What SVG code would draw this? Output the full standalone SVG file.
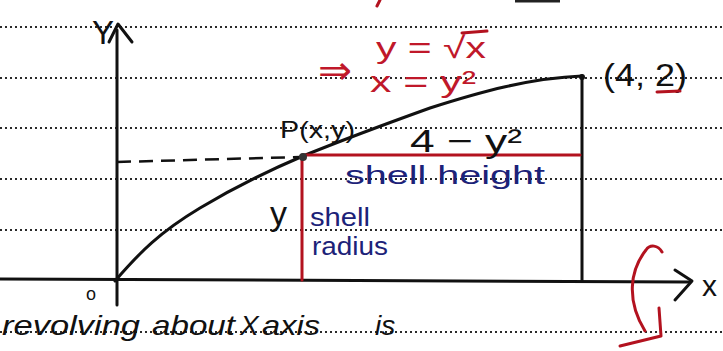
<svg xmlns="http://www.w3.org/2000/svg" width="723" height="351" viewBox="0 0 723 351">
<style>
.rule{stroke:#2a2a2a;stroke-width:2.2;stroke-dasharray:2 3;fill:none}
.ink{stroke:#111;stroke-width:3;fill:none;stroke-linecap:round;stroke-linejoin:round}
.red{stroke:#b3121f;stroke-width:3;fill:none;stroke-linecap:round;stroke-linejoin:round}
.t{font-family:"Liberation Sans","DejaVu Sans",sans-serif;fill:#111}
.tr{font-family:"Liberation Sans","DejaVu Sans",sans-serif;fill:#c0182a}
.tb{font-family:"Liberation Sans","DejaVu Sans",sans-serif;fill:#1c2278}
</style>
<rect width="723" height="351" fill="#fff"/>
<g id="rules">
<line class="rule" x1="0" y1="27" x2="723" y2="27"/>
<line class="rule" x1="0" y1="78" x2="723" y2="78"/>
<line class="rule" x1="0" y1="128" x2="723" y2="128"/>
<line class="rule" x1="0" y1="179" x2="723" y2="179"/>
<line class="rule" x1="0" y1="230" x2="723" y2="230"/>
<line class="rule" x1="0" y1="332" x2="723" y2="332"/>
</g>
<g id="top-fragments">
<line x1="515" y1="1" x2="560" y2="1" stroke="#222" stroke-width="3"/>
<line x1="380" y1="0" x2="377" y2="6" class="red"/>
</g>
<g id="axes">
<line class="ink" x1="0" y1="279" x2="690" y2="282"/>
<polyline class="ink" points="675,270 692,281 675,300"/>
<line class="ink" x1="117" y1="305" x2="117" y2="30"/>
<polyline class="ink" points="109,42 118,24 132,42" stroke-width="2.5"/>
</g>
<g id="curve">
<path class="ink" d="M115,281 C140,252 160,232 200,208 C230,190 270,170 303,156 C340,141 380,126 430,108 C480,92 530,78 582,76"/>
<line class="ink" x1="582" y1="76" x2="582" y2="280"/>
<circle cx="582" cy="77" r="3" fill="#111"/>
<line x1="117" y1="162" x2="300" y2="157" stroke="#111" stroke-width="2.5" stroke-dasharray="14 8"/>
</g>
<g id="shell">
<line class="red" x1="303" y1="155" x2="580" y2="155"/>
<line class="red" x1="302" y1="155" x2="302" y2="280"/>
<circle cx="303" cy="157" r="4" fill="#333"/>
</g>
<g id="rotation">
<path class="red" d="M662,252 C658,245 650,244 646,250 C630,270 626,300 645,331"/>
<polyline class="red" points="659,308 661,336 620,346"/>
</g>
<g id="labels">
<text class="t" x="92" y="44" font-size="34" textLength="22" lengthAdjust="spacingAndGlyphs">Y</text>
<text class="t" x="86" y="300" font-size="18">o</text>
<text class="t" x="702" y="296" font-size="30">x</text>
<text class="tr" x="318" y="84" font-size="40" textLength="34" lengthAdjust="spacingAndGlyphs">⇒</text>
<text class="tr" x="376" y="58" font-size="30" textLength="110" lengthAdjust="spacingAndGlyphs">y = √x</text>
<line class="red" x1="462" y1="33" x2="487" y2="31" stroke-width="2.5"/>
<text class="tr" x="370" y="92" font-size="30" textLength="106" lengthAdjust="spacingAndGlyphs">x = y²</text>
<text class="t" x="603" y="86" font-size="32" textLength="84" lengthAdjust="spacingAndGlyphs">(4, 2)</text>
<line class="red" x1="657" y1="92" x2="680" y2="91"/>
<text class="t" x="280" y="138" font-size="24" textLength="75" lengthAdjust="spacingAndGlyphs">P(x,y)</text>
<text class="t" x="410" y="152" font-size="32" textLength="112" lengthAdjust="spacingAndGlyphs">4 − y²</text>
<text class="tb" x="345" y="184" font-size="26" textLength="200" lengthAdjust="spacingAndGlyphs">shell height</text>
<text class="t" x="270" y="225" font-size="34">y</text>
<text class="tb" x="310" y="226" font-size="25" textLength="60" lengthAdjust="spacingAndGlyphs">shell</text>
<text class="tb" x="312" y="255" font-size="25" textLength="76" lengthAdjust="spacingAndGlyphs">radius</text>
<text class="t" x="2" y="335" font-size="28" font-style="italic" textLength="138" lengthAdjust="spacingAndGlyphs">revolving</text>
<text class="t" x="152" y="335" font-size="28" font-style="italic" textLength="83" lengthAdjust="spacingAndGlyphs">about</text>
<text class="t" x="240" y="335" font-size="28" font-style="italic">X</text>
<text class="t" x="262" y="335" font-size="28" font-style="italic" textLength="58" lengthAdjust="spacingAndGlyphs">axis</text>
<text class="t" x="375" y="335" font-size="28" font-style="italic">is</text>
</g>
</svg>
